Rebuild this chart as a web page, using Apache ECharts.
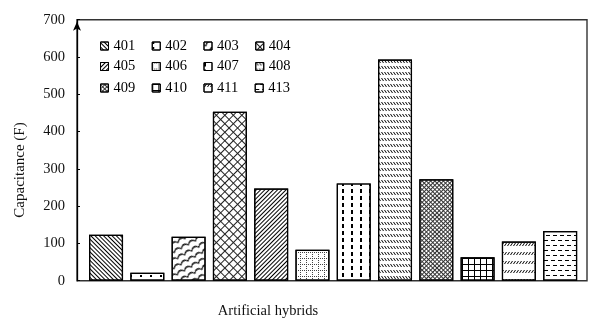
<!DOCTYPE html>
<html>
<head>
<meta charset="utf-8">
<script src="https://cdn.jsdelivr.net/npm/echarts@6/dist/echarts.min.js"></script>
<style>html,body{margin:0;padding:0;background:#fff;}#c{width:589px;height:318px;}</style>
</head>
<body>
<div id="c"></div>
<script>
var categories = ['401','402','403','404','405','406','407','408','409','410','411','413'];
var capacitance = [123, 21, 118, 453, 247, 83, 261, 593, 272, 63, 105, 133];
var yTickLabels = ['0','100','200','300','400','500','600','700'];
var xAxisTitle = 'Artificial hybrids';
var yAxisTitle = 'Capacitance (F)';
var legendRows = [['401','402','403','404'],['405','406','407','408'],['409','410','411','413']];

var FONT = 'Liberation Serif, Times New Roman, serif';
var decals = [
  {symbol:'rect', symbolSize:1, dashArrayX:[1,0], dashArrayY:[1,2], rotation: Math.PI/4, color:'#000'},
  {symbol:'rect', symbolSize:1, dashArrayX:[2,8], dashArrayY:[2,3], color:'#000'},
  {symbol:'path://M0,6Q5,0 10,6L10,8Q5,2 0,8Z', symbolSize:1, dashArrayX:[8,0], dashArrayY:[6,1], rotation:-0.5, color:'#000'},
  {symbol:'path://M0,0H6V1H1V6H0Z', symbolSize:1, dashArrayX:[6,0], dashArrayY:[6,0], rotation: Math.PI/4, color:'#222'},
  {symbol:'rect', symbolSize:1, dashArrayX:[1,0], dashArrayY:[1,2], rotation: -Math.PI/4, color:'#000'},
  {symbol:'path://M0,0h1v1H0zM2,0h1v1H2zM4,0h1v1H4zM0,2h1v1H0zM0,4h1v1H0z', symbolSize:1, dashArrayX:[5,1], dashArrayY:[5,1], color:'#444'},
  {symbol:'rect', symbolSize:1, dashArrayX:[2,7], dashArrayY:[4,3], color:'#000'},
  {symbol:'path://M0,0H1L3,3H2Z', symbolSize:1, dashArrayX:[3,0], dashArrayY:[3,3], color:'#000'},
  {symbol:'path://M0,0H3V1H1V3H0Z', symbolSize:1, dashArrayX:[3,0], dashArrayY:[3,0], rotation: Math.PI/4, color:'#333'},
  {symbol:'path://M0,0H6V1H1V6H0Z', symbolSize:1, dashArrayX:[6,0], dashArrayY:[6,0], color:'#000'},
  {symbol:'path://M2,0H3L1,3H0Z', symbolSize:1, dashArrayX:[3,0], dashArrayY:[3,6], color:'#000'},
  {symbol:'rect', symbolSize:1, dashArrayX:[[4,3],[2,3,2,0]], dashArrayY:[1,4], color:'#000'}
];

var series = categories.map(function(name, i){
  return {
    name: name,
    type: 'bar',
    barWidth: 34,
    barGap: '-100%',
    data: categories.map(function(c, j){ return j === i ? capacitance[i] : null; }),
    itemStyle: {color:'#fff', borderColor:'#000', borderWidth:1.2, decal: decals[i]},
    emphasis: {disabled:true}
  };
});

var legendTops = [38.5, 59, 80.5];
var legends = legendRows.map(function(row, r){
  return {
    data: row, left: 100, top: legendTops[r], orient:'horizontal', padding:0,
    itemWidth: 8, itemHeight: 8, itemGap: 16.5, icon: 'rect', selectedMode:false,
    itemStyle:{borderColor:'#000', borderWidth:1},
    textStyle:{fontFamily:FONT, fontSize:14.5, color:'#000'}
  };
});

var chart = echarts.init(document.getElementById('c'), null, {renderer:'canvas'});
chart.setOption({
  animation:false,
  backgroundColor:'#fff',
  aria:{enabled:false},
  legend: legends,
  grid:{left:85.4, right:8.2, top:19.7, bottom:37.3, containLabel:false},
  xAxis:{type:'category', data:categories, axisLine:{show:false}, axisTick:{show:false}, axisLabel:{show:false}, splitLine:{show:false}},
  yAxis:{type:'value', min:0, max:700, interval:100, offset:8.4,
    axisLine:{show:true, lineStyle:{color:'#000', width:1.3}, symbol:['none','arrow'], symbolSize:[6,9], symbolOffset:[0,-2]},
    axisTick:{show:true, inside:true, length:3, lineStyle:{color:'#000'}},
    axisLabel:{margin:12, fontFamily:FONT, fontSize:14.5, color:'#111', formatter:function(v){ return yTickLabels[Math.round(v/100)]; }},
    splitLine:{show:false}},
  graphic:[
    {type:'rect', z:-1, shape:{x:77, y:19.7, width:510, height:261}, style:{fill:'none', stroke:'#333', lineWidth:1.4}, silent:true},
    {type:'text', x:268, y:311, style:{text:xAxisTitle, font:'14.5px '+FONT, fill:'#111', align:'center', verticalAlign:'middle'}, silent:true},
    {type:'text', x:20, y:170, rotation:Math.PI/2, style:{text:yAxisTitle, font:'15px '+FONT, fill:'#111', align:'center', verticalAlign:'middle'}, silent:true}
  ],
  series: series
});
</script>
</body>
</html>
